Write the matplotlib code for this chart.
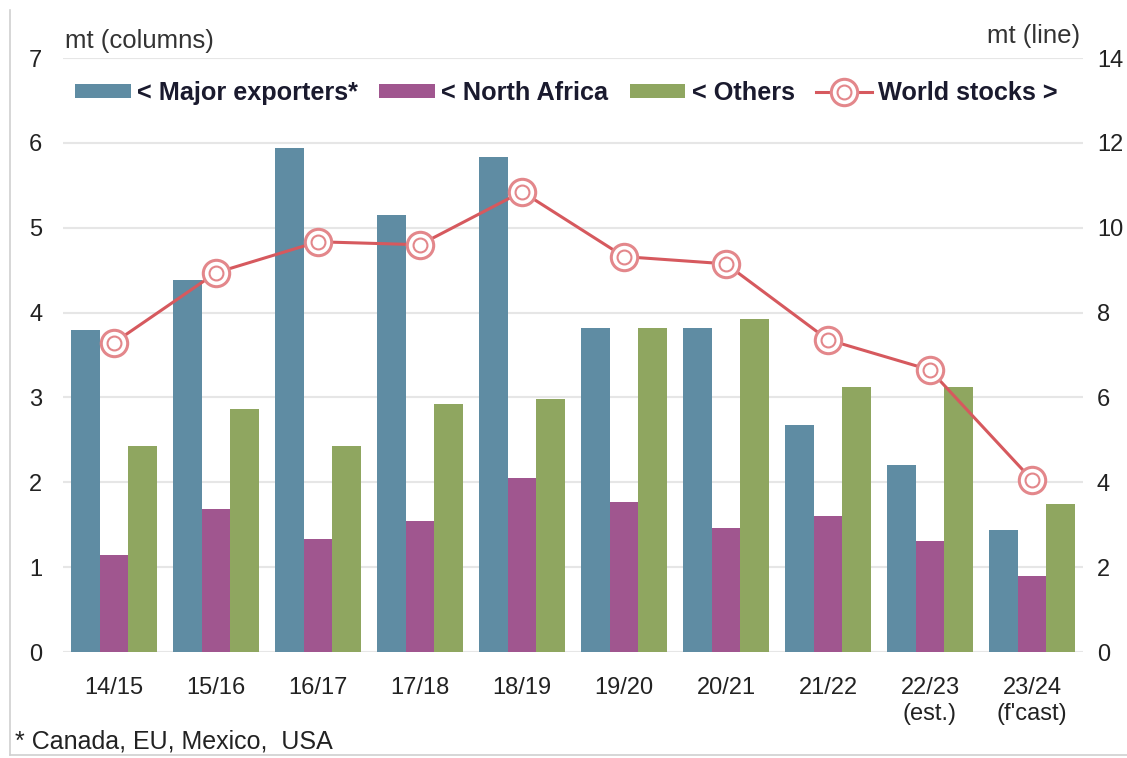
import matplotlib.pyplot as plt
import numpy as np
from matplotlib.lines import Line2D

plt.rcParams['font.family'] = ['Liberation Sans', 'DejaVu Sans']

seasons = ["14/15", "15/16", "16/17", "17/18", "18/19", "19/20", "20/21", "21/22", "22/23\n(est.)", "23/24\n(f'cast)"]
major_exporters = [3.79, 4.39, 5.94, 5.15, 5.83, 3.82, 3.82, 2.67, 2.21, 1.44]
north_africa = [1.14, 1.68, 1.33, 1.54, 2.05, 1.77, 1.46, 1.60, 1.31, 0.90]
others = [2.43, 2.86, 2.43, 2.92, 2.98, 3.82, 3.93, 3.12, 3.12, 1.74]
world_stocks = [7.29, 8.94, 9.67, 9.60, 10.85, 9.32, 9.15, 7.36, 6.65, 4.06]

c_major = '#5f8ca3'
c_na = '#a0568f'
c_oth = '#8fa660'
c_line = '#d6595e'
c_ring = '#e3878b'

fig = plt.figure(figsize=(11.27, 7.58), dpi=100)
ax = fig.add_axes([0.0559, 0.1398, 0.905, 0.7836])

x = np.arange(len(seasons))
w = 0.28
b1 = ax.bar(x - w, major_exporters, width=w, color=c_major, zorder=2)
b2 = ax.bar(x, north_africa, width=w, color=c_na, zorder=2)
b3 = ax.bar(x + w, others, width=w, color=c_oth, zorder=2)

ax.set_xlim(-0.5, len(seasons) - 0.5)
ax.set_ylim(0, 7)
ax.set_yticks(range(0, 8))
ax.set_xticks(x)
ax.set_xticklabels(seasons, linespacing=1.25)
ax.grid(axis='y', color='#e6e6e6', lw=1.5, zorder=0)
ax.set_axisbelow(True)
for s in ax.spines.values():
    s.set_visible(False)
ax.tick_params(axis='both', length=0, labelsize=17, colors='#222222')
ax.tick_params(axis='y', pad=15)
ax.tick_params(axis='x', pad=18)

ax2 = ax.twinx()
ax2.set_ylim(0, 14)
ax2.set_yticks(range(0, 15, 2))
for s in ax2.spines.values():
    s.set_visible(False)
ax2.tick_params(axis='y', length=0, labelsize=17, colors='#222222', pad=10)
ln, = ax2.plot(x, world_stocks, color=c_line, lw=2.2, marker='o', ms=19,
               mfc='white', mec=c_ring, mew=2.2, zorder=3)
ln2, = ax2.plot(x, world_stocks, ls='none', marker='o', ms=10,
                mfc='white', mec=c_ring, mew=1.5, zorder=4)

leg = ax.legend([b1, b2, b3, (ln, ln2)],
                ["< Major exporters*", "< North Africa", "< Others", "World stocks >"],
                loc='center left', bbox_to_anchor=(0.0118, 0.941), ncol=4, frameon=False,
                prop={'weight': 'bold', 'size': 18.2}, handlelength=2.2, handleheight=0.47,
                handletextpad=0.25, columnspacing=0.85, borderaxespad=0, borderpad=0)
for t in leg.get_texts():
    t.set_color('#1a1a2e')

fig.text(65 / 1127, 1 - 41 / 758, "mt (columns)", fontsize=18.5, color='#333333', va='center')
fig.text(1080 / 1127, 1 - 36 / 758, "mt (line)", fontsize=18.5, color='#333333', va='center', ha='right')
fig.text(15 / 1127, 1 - 741 / 758, "* Canada, EU, Mexico,  USA", fontsize=18, color='#222222', va='center')

fig.add_artist(Line2D([10 / 1127, 10 / 1127], [1 - 10 / 758, 1 - 755 / 758], color='#d0d0d0', lw=1.2))
fig.add_artist(Line2D([10 / 1127, 1.0], [1 - 755 / 758, 1 - 755 / 758], color='#d0d0d0', lw=1.2))

fig.savefig('out.png', dpi=100)
